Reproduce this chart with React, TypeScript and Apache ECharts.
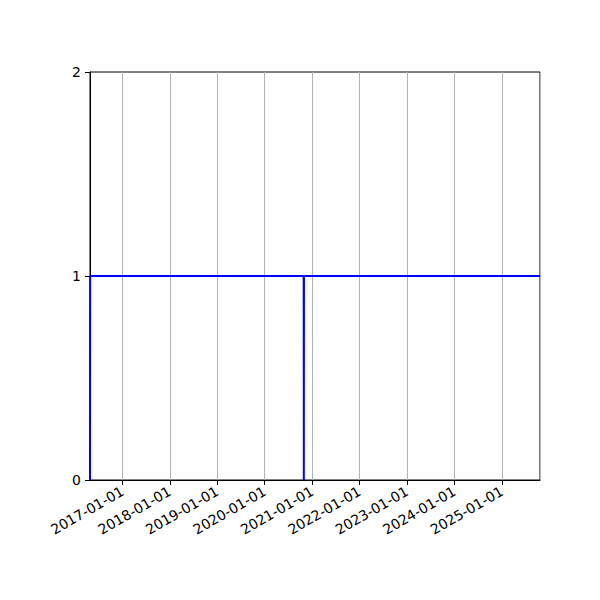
import { useEffect, useRef } from "react";
import * as echarts from "echarts";

// data
const dates = ["2016-04-27", "2016-04-28", "2020-10-28", "2020-10-29", "2020-10-30", "2025-10-21"];
const values = [0, 1, 1, 0, 1, 1];
const yTicks = [0, 1, 2];

const fmt = (v: number) => {
  const d = new Date(v);
  const p = (n: number) => String(n).padStart(2, "0");
  return `${d.getUTCFullYear()}-${p(d.getUTCMonth() + 1)}-${p(d.getUTCDate())}`;
};

export default function App() {
  const chartRef = useRef<HTMLDivElement>(null);

  useEffect(() => {
    if (!chartRef.current) return;
    const chart = echarts.init(chartRef.current, undefined, { renderer: "svg" });

    const option: echarts.EChartsOption = {
      animation: false,
      backgroundColor: "#ffffff",
      textStyle: { fontFamily: "DejaVu Sans" },
      grid: {
        left: 90,
        right: 60,
        top: 72,
        bottom: 120,
        show: true,
        borderColor: "#000000",
        borderWidth: 1,
        backgroundColor: "transparent",
      },
      xAxis: {
        type: "time",
        min: Date.parse(dates[0]),
        max: Date.parse(dates[dates.length - 1]),
        minInterval: 365 * 24 * 3600 * 1000,
        maxInterval: 366 * 24 * 3600 * 1000,
        axisLine: { show: true, lineStyle: { color: "#000", width: 1 } },
        axisTick: { show: true, length: 5, inside: false, lineStyle: { color: "#000" } },
        minorTick: { show: false },
        splitLine: { show: true, lineStyle: { color: "#b0b0b0", width: 1 } },
        axisLabel: {
          rotate: 30,
          color: "#000",
          fontSize: 14,
          margin: 10,
          showMinLabel: false,
          showMaxLabel: false,
          formatter: (v: number) => fmt(v),
        },
      },
      yAxis: {
        type: "value",
        min: yTicks[0],
        max: yTicks[yTicks.length - 1],
        interval: 1,
        axisLine: { show: true, lineStyle: { color: "#000", width: 1 } },
        axisTick: { show: true, length: 5, lineStyle: { color: "#000" } },
        splitLine: { show: false },
        axisLabel: { color: "#000", fontSize: 14, margin: 9 },
      },
      series: [
        {
          type: "line",
          data: dates.map((d, i) => [Date.parse(d), values[i]]),
          showSymbol: false,
          lineStyle: { color: "#0000ff", width: 2 },
          clip: true,
        },
      ],
    };

    chart.setOption(option);
    return () => chart.dispose();
  }, []);

  return (
    <div
      ref={chartRef}
      style={{ position: "fixed", left: 0, top: 0, width: 600, height: 600 }}
    />
  );
}
